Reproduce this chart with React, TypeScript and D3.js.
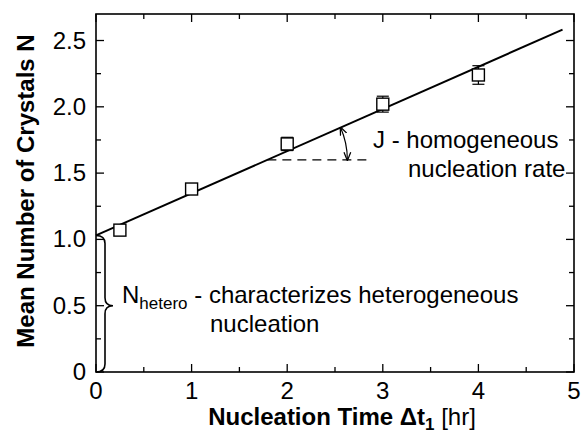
import React from 'react';
import * as d3 from 'd3';

// measured points (time in hr, mean crystals, error half-width)
const times = [0.25, 1, 2, 3, 4];
const meanN = [1.07, 1.38, 1.72, 2.02, 2.24];
const errN = [0.02, 0.04, 0.05, 0.06, 0.07];

// linear fit N = N_hetero + J * t
const fitIntercept = 1.03;
const fitSlope = 0.318;
const fitRange = [0, 4.88];

// dashed reference for the slope annotation
const dashLevel = 1.6;
const dashEnd = 2.87;

const xTicks = [0, 1, 2, 3, 4, 5];
const xMinor = [0.5, 1.5, 2.5, 3.5, 4.5];
const yTicks = [0, 0.5, 1.0, 1.5, 2.0, 2.5];
const yLabels = ['0', '0.5', '1.0', '1.5', '2.0', '2.5'];
const yMinor = [0.25, 0.75, 1.25, 1.75, 2.25];

const W = 584;
const H = 439;
const margin = { top: 14, right: 10, bottom: 67, left: 96 };
const font = '"Liberation Sans", Arial, Helvetica, sans-serif';
const fs = 24;

export default function App() {
  const x = d3.scaleLinear().domain([0, 5]).range([margin.left, W - margin.right]);
  const y = d3.scaleLinear().domain([0, 2.7]).range([H - margin.bottom, margin.top]);
  const x0 = x.range()[0], x1 = x.range()[1];
  const y0 = y.range()[0], y1 = y.range()[1];

  const fitLine = d3.line<number>()
    .x(t => x(t))
    .y(t => y(fitIntercept + fitSlope * t));

  // where the fit crosses the dashed level -> arc center
  const tCross = (dashLevel - fitIntercept) / fitSlope;
  const cx = x(tCross), cy = y(dashLevel);
  const r = 80;
  const ang = Math.atan2(y(fitIntercept) - y(fitIntercept + fitSlope), x(1) - x(0));
  const ax = cx + r * Math.cos(ang), ay = cy - r * Math.sin(ang);
  const arcPath = `M${ax},${ay} A${r},${r} 0 0 1 ${cx + r},${cy}`;

  // brace from 0 to the intercept
  const bTop = y(fitIntercept), bBot = y(0), bMid = y(0.5);
  const bx = x0 + 9, tip = x0 + 17;
  const brace = `M${x0},${bTop} Q${bx},${bTop} ${bx},${bTop + 8} L${bx},${bMid - 8} Q${bx},${bMid} ${tip},${bMid} Q${bx},${bMid} ${bx},${bMid + 8} L${bx},${bBot - 8} Q${bx},${bBot} ${x0},${bBot}`;

  const sq = 12;

  return (
    <svg width={W} height={H} style={{ position: 'absolute', left: 0, top: 0, background: '#fff' }} fontFamily={font}>
      <defs>
        <marker id="ah" viewBox="0 0 10 10" refX="9" refY="5" markerWidth="7" markerHeight="7" orient="auto-start-reverse">
          <path d="M0,1 L10,5 L0,9" fill="none" stroke="#000" strokeWidth="1.5" />
        </marker>
      </defs>

      {/* frame */}
      <rect x={x0} y={y1} width={x1 - x0} height={y0 - y1} fill="none" stroke="#000" strokeWidth={1.6} />

      {/* x ticks, bottom and top */}
      {xTicks.map(t => (
        <g key={'xt' + t}>
          <line x1={x(t)} x2={x(t)} y1={y0} y2={y0 - 8} stroke="#000" strokeWidth={1.3} />
          <line x1={x(t)} x2={x(t)} y1={y1} y2={y1 + 8} stroke="#000" strokeWidth={1.3} />
          <text x={x(t)} y={399} textAnchor="middle" fontSize={fs}>{t}</text>
        </g>
      ))}
      {xMinor.map(t => (
        <g key={'xm' + t}>
          <line x1={x(t)} x2={x(t)} y1={y0} y2={y0 - 5} stroke="#000" strokeWidth={1.3} />
          <line x1={x(t)} x2={x(t)} y1={y1} y2={y1 + 5} stroke="#000" strokeWidth={1.3} />
        </g>
      ))}

      {/* y ticks, left and right */}
      {yTicks.map((v, i) => (
        <g key={'yt' + v}>
          <line x1={x0} x2={x0 + 8} y1={y(v)} y2={y(v)} stroke="#000" strokeWidth={1.3} />
          <line x1={x1} x2={x1 - 8} y1={y(v)} y2={y(v)} stroke="#000" strokeWidth={1.3} />
          <text x={86} y={y(v) + 8} textAnchor="end" fontSize={fs}>{yLabels[i]}</text>
        </g>
      ))}
      {yMinor.map(v => (
        <g key={'ym' + v}>
          <line x1={x0} x2={x0 + 5} y1={y(v)} y2={y(v)} stroke="#000" strokeWidth={1.3} />
          <line x1={x1} x2={x1 - 5} y1={y(v)} y2={y(v)} stroke="#000" strokeWidth={1.3} />
        </g>
      ))}

      {/* fit line */}
      <path d={fitLine(fitRange) || ''} fill="none" stroke="#000" strokeWidth={2} />

      {/* dashed level */}
      <line x1={cx} x2={x(dashEnd)} y1={cy} y2={cy} stroke="#000" strokeWidth={1.4} strokeDasharray="9,6" />
      <path d={arcPath} fill="none" stroke="#000" strokeWidth={1.2} markerStart="url(#ah)" markerEnd="url(#ah)" />

      {/* data with error bars */}
      {times.map((t, i) => (
        <g key={'p' + t}>
          <line x1={x(t)} x2={x(t)} y1={y(meanN[i] - errN[i])} y2={y(meanN[i] + errN[i])} stroke="#000" strokeWidth={1.2} />
          <line x1={x(t) - 6} x2={x(t) + 6} y1={y(meanN[i] + errN[i])} y2={y(meanN[i] + errN[i])} stroke="#000" strokeWidth={1.2} />
          <line x1={x(t) - 6} x2={x(t) + 6} y1={y(meanN[i] - errN[i])} y2={y(meanN[i] - errN[i])} stroke="#000" strokeWidth={1.2} />
          <rect x={x(t) - sq / 2} y={y(meanN[i]) - sq / 2} width={sq} height={sq} fill="#fff" stroke="#000" strokeWidth={1.4} />
        </g>
      ))}

      {/* brace */}
      <path d={brace} fill="none" stroke="#000" strokeWidth={1.6} />

      {/* annotations */}
      <text x={373} y={148} fontSize={fs}>J - homogeneous</text>
      <text x={408} y={177} fontSize={fs}>nucleation rate</text>
      <text x={122} y={303} fontSize={fs}>
        N<tspan fontSize={17} dy={6}>hetero</tspan><tspan dy={-6}> - characterizes heterogeneous</tspan>
      </text>
      <text x={210} y={332} fontSize={fs}>nucleation</text>

      {/* axis titles */}
      <text x={342} y={425} textAnchor="middle" fontSize={fs}>
        <tspan fontWeight="bold">Nucleation Time Δt</tspan><tspan fontWeight="bold" fontSize={17} dy={5}>1</tspan><tspan dy={-5}> [hr]</tspan>
      </text>
      <text transform={`translate(34,191) rotate(-90)`} textAnchor="middle" fontSize={fs} fontWeight="bold">
        Mean Number of Crystals N
      </text>
    </svg>
  );
}
